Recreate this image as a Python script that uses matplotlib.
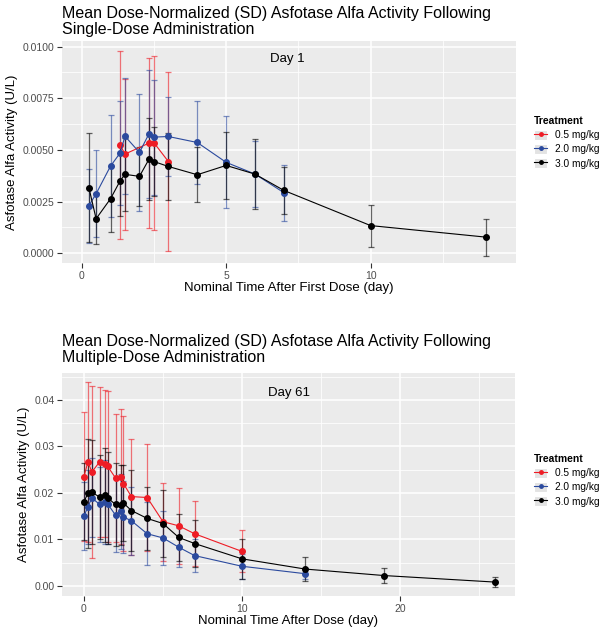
import numpy as np
import matplotlib
matplotlib.use('Agg')
import matplotlib.pyplot as plt
from matplotlib.lines import Line2D
from matplotlib.patches import Patch

plt.rcParams['font.family'] = ['Liberation Sans', 'DejaVu Sans']

# ---- Single dose (Day 1) ----
sd_t_05 = [1.33, 1.5, 2.33, 2.5, 3.0]
sd_m_05 = [0.00525, 0.00480, 0.00533, 0.00535, 0.00444]
sd_e_05 = [0.00455, 0.00365, 0.00410, 0.00420, 0.00435]

sd_t_20 = [0.25, 0.5, 1.0, 1.33, 1.5, 2.0, 2.33, 2.5, 3.0, 4.0, 5.0, 6.0, 7.0]
sd_m_20 = [0.00230, 0.00288, 0.00422, 0.00485, 0.00566, 0.00488, 0.00578, 0.00562, 0.00565,
           0.00536, 0.00440, 0.00383, 0.00293]
sd_e_20 = [0.00178, 0.00210, 0.00245, 0.00250, 0.00280, 0.00282, 0.00310, 0.00278, 0.00190,
           0.00202, 0.00222, 0.00160, 0.00135]

sd_t_30 = [0.25, 0.5, 1.0, 1.33, 1.5, 2.0, 2.33, 2.5, 3.0, 4.0, 5.0, 6.0, 7.0, 10.0, 14.0]
sd_m_30 = [0.00318, 0.00167, 0.00264, 0.00350, 0.00382, 0.00372, 0.00455, 0.00444, 0.00420,
           0.00380, 0.00425, 0.00383, 0.00304, 0.00134, 0.00078]
sd_e_30 = [0.00262, 0.00124, 0.00160, 0.00172, 0.00178, 0.00142, 0.00198, 0.00168, 0.00160,
           0.00132, 0.00163, 0.00168, 0.00112, 0.00102, 0.00090]

# ---- Multiple dose (Day 61) ----
md_t_05 = [0, 0.25, 0.5, 1.0, 1.33, 1.5, 2.0, 2.33, 2.5, 3.0, 4.0, 5.0, 6.0, 7.0, 10.0]
md_m_05 = [0.0235, 0.0267, 0.0245, 0.0267, 0.0263, 0.0257, 0.0232, 0.0235, 0.0220, 0.0192,
           0.0190, 0.0138, 0.0129, 0.0112, 0.0074]
md_e_05 = [0.0138, 0.0172, 0.0185, 0.0161, 0.0159, 0.0162, 0.0137, 0.0145, 0.0145, 0.0125,
           0.0115, 0.0084, 0.0082, 0.0070, 0.0045]

md_t_20 = [0, 0.25, 0.5, 1.0, 1.33, 1.5, 2.0, 2.33, 2.5, 3.0, 4.0, 5.0, 6.0, 7.0, 10.0, 14.0]
md_m_20 = [0.0150, 0.0170, 0.0189, 0.0175, 0.0181, 0.0176, 0.0152, 0.0160, 0.0148, 0.0140,
           0.0112, 0.0103, 0.0083, 0.0065, 0.0042, 0.0026]
md_e_20 = [0.0074, 0.0080, 0.0085, 0.0080, 0.0090, 0.0085, 0.0080, 0.0080, 0.0078, 0.0073,
           0.0068, 0.0058, 0.0042, 0.0036, 0.0027, 0.0012]

md_t_30 = [0, 0.25, 0.5, 1.0, 1.33, 1.5, 2.0, 2.33, 2.5, 3.0, 4.0, 5.0, 6.0, 7.0, 10.0, 14.0,
           19.0, 26.0]
md_m_30 = [0.0181, 0.0199, 0.0201, 0.0191, 0.0195, 0.0189, 0.0175, 0.0173, 0.0178, 0.0162,
           0.0145, 0.0134, 0.0104, 0.0091, 0.0058, 0.0036, 0.0022, 0.0008]
md_e_30 = [0.0083, 0.0117, 0.0112, 0.0090, 0.0101, 0.0100, 0.0090, 0.0086, 0.0082, 0.0088,
           0.0068, 0.0072, 0.0050, 0.0051, 0.0043, 0.0026, 0.0017, 0.0011]

labels = ['0.5 mg/kg', '2.0 mg/kg', '3.0 mg/kg']
colors = ['#EE1C25', '#2B4A9E', '#000000']


def draw_panel(ax, series, xlim, ylim, yticks, ytick_labels, xticks, xminor, yminor):
    ax.set_facecolor('#EBEBEB')
    for s in ax.spines.values():
        s.set_visible(False)
    ax.set_xlim(*xlim)
    ax.set_ylim(*ylim)
    ax.set_xticks(xticks)
    ax.set_xticklabels([str(t) for t in xticks])
    ax.set_yticks(yticks)
    ax.set_yticklabels(ytick_labels)
    ax.set_xticks(xminor, minor=True)
    ax.set_yticks(yminor, minor=True)
    ax.tick_params(which='major', length=3.5, width=0.8, color='#333333',
                   labelsize=7.5, labelcolor='#4D4D4D', pad=2)
    ax.tick_params(which='minor', length=0)
    ax.grid(which='major', color='white', lw=1.1)
    ax.grid(which='minor', color='white', lw=0.55)
    ax.set_axisbelow(True)
    for (t, m, e), c in zip(series, colors):
        ax.errorbar(t, m, yerr=e, fmt='none', ecolor=c, elinewidth=0.9,
                    capsize=2.3, capthick=0.9, alpha=0.6, zorder=2)
    for (t, m, e), c, lab in zip(series, colors, labels):
        ax.plot(t, m, color=c, lw=0.8, marker='o', ms=4.0, label=lab, zorder=3)


def add_legend(fig, y_top):
    handles = [(Patch(facecolor='#E3E3E3', edgecolor='white', lw=0.8),
                Line2D([], [], color=c, lw=0.8, marker='o', ms=2.5)) for c in colors]
    leg = fig.legend(handles, labels, loc='upper left',
                     bbox_to_anchor=(530 / 600, 1 - y_top / 628), frameon=False,
                     title='Treatment', fontsize=7.3, title_fontsize=7.5,
                     handlelength=1.3, handleheight=1.2, handletextpad=0.8,
                     labelspacing=0.35, borderaxespad=0)
    leg.get_title().set_fontweight('bold')
    leg._legend_box.align = 'left'


fig = plt.figure(figsize=(6, 6.28), dpi=100)

ax1 = fig.add_axes([62 / 600, 1 - 263 / 628, 454 / 600, 222 / 628])
draw_panel(ax1, [(sd_t_05, sd_m_05, sd_e_05), (sd_t_20, sd_m_20, sd_e_20),
                 (sd_t_30, sd_m_30, sd_e_30)],
           (-0.68, 15.03), (-0.00047, 0.01027),
           [0, 0.0025, 0.005, 0.0075, 0.01], ['0.0000', '0.0025', '0.0050', '0.0075', '0.0100'],
           [0, 5, 10], [2.5, 7.5, 12.5], [0.00125, 0.00375, 0.00625, 0.00875])
ax1.text(7.1, 0.0094, 'Day 1', ha='center', va='center', fontsize=9.5)
ax1.set_xlabel('Nominal Time After First Dose (day)', fontsize=9.5, labelpad=1)
ax1.set_ylabel('Asfotase Alfa Activity (U/L)', fontsize=9.5, labelpad=3)
ax1.set_title('Mean Dose-Normalized (SD) Asfotase Alfa Activity Following\n'
              'Single-Dose Administration', loc='left', fontsize=11.5, pad=5,
              linespacing=1.05)

ax2 = fig.add_axes([62 / 600, 1 - 596 / 628, 453 / 600, 223 / 628])
draw_panel(ax2, [(md_t_05, md_m_05, md_e_05), (md_t_20, md_m_20, md_e_20),
                 (md_t_30, md_m_30, md_e_30)],
           (-1.39, 27.28), (-0.0022, 0.0458),
           [0, 0.01, 0.02, 0.03, 0.04], ['0.00', '0.01', '0.02', '0.03', '0.04'],
           [0, 10, 20], [5, 15, 25], [0.005, 0.015, 0.025, 0.035, 0.045])
ax2.text(13, 0.0416, 'Day 61', ha='center', va='center', fontsize=9.5)
ax2.set_xlabel('Nominal Time After Dose (day)', fontsize=9.5, labelpad=1)
ax2.set_ylabel('Asfotase Alfa Activity (U/L)', fontsize=9.5, labelpad=3)
ax2.set_title('Mean Dose-Normalized (SD) Asfotase Alfa Activity Following\n'
              'Multiple-Dose Administration', loc='left', fontsize=11.5, pad=8,
              linespacing=1.05)

add_legend(fig, 112)
add_legend(fig, 450)

fig.savefig('out.png', dpi=100)
